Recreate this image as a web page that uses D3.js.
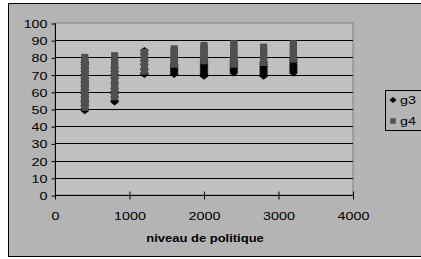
<!DOCTYPE html>
<meta charset="utf-8">
<style>
    body { margin: 0; background: #ffffff; }
    text { font-family: "Liberation Sans", Arial, sans-serif; fill: #000; }
    .grid line { stroke: #000; stroke-width: 1; }
</style>
<body>
<script src="https://cdn.jsdelivr.net/npm/d3@7"></script>
<script>

    var levels = [400, 800, 1200, 1600, 2000, 2400, 2800, 3200];

    // g3 values, one list per policy level
    var g3 = [
        [49, 50, 52, 54, 55, 57, 59, 61, 63, 64, 66, 68, 70, 72, 74, 76, 77],
        [54, 55, 57, 59, 60, 62, 65, 68, 70, 72, 74],
        [70, 71, 73, 76, 78, 80, 82, 84],
        [70, 71, 72, 73, 74, 75, 76],
        [69, 70, 71, 72, 73, 74, 75, 76, 77, 78],
        [71, 72, 73, 74, 75, 76, 77, 78],
        [69, 70, 71, 72, 73, 74, 75, 76, 77],
        [71, 72, 73, 74, 75, 76, 77, 78, 79]
    ];

    // g4 values, one list per policy level
    var g4 = [
        [51, 52, 53, 54, 55, 56, 57, 58, 59, 60, 61, 62, 63, 64, 65, 66, 67, 68, 69, 70, 71, 72, 73, 74, 75, 76, 77, 78, 79, 80],
        [57, 59, 61, 62, 63, 64, 65, 66, 67, 68, 69, 70, 71, 72, 73, 74, 75, 76, 77, 78, 79, 80, 81],
        [72, 74, 75, 77, 78, 79, 80, 81, 82, 83],
        [76, 77, 78, 79, 80, 81, 82, 83, 84, 85],
        [78, 79, 80, 81, 82, 83, 84, 85, 86, 87],
        [76, 77, 78, 79, 80, 81, 82, 83, 84, 85, 86, 87, 88],
        [77, 78, 79, 80, 81, 82, 83, 84, 85, 86],
        [79, 80, 81, 82, 83, 84, 85, 86, 87, 88]
    ];

    var xTicks = [0, 1000, 2000, 3000, 4000];
    var yTicks = [0, 10, 20, 30, 40, 50, 60, 70, 80, 90, 100];
    var seriesNames = ["g3", "g4"];

    var W = 421, H = 259;
    var plot = {left: 55, right: 353, top: 23, bottom: 195};
    var stretch = "scale(1.3,1)";

    var svg = d3.select("body").append("svg")
            .attr("width", W)
            .attr("height", H);

    // outer chart area
    svg.append("rect")
            .attr("x", 8.5).attr("y", 3.5)
            .attr("width", 420).attr("height", 253)
            .attr("fill", "#b4b4b4")
            .attr("stroke", "#000").attr("stroke-width", 1);

    var x = d3.scaleLinear().domain([0, 4000]).range([plot.left, plot.right]);
    var y = d3.scaleLinear().domain([0, 100]).range([plot.bottom, plot.top]);

    // plot area
    svg.append("rect")
            .attr("x", plot.left).attr("y", plot.top)
            .attr("width", plot.right - plot.left).attr("height", plot.bottom - plot.top)
            .attr("fill", "#c0c0c0")
            .attr("stroke", "#808080").attr("stroke-width", 1);

    svg.append("g").attr("class", "grid")
            .selectAll("line").data(yTicks.filter(function(d) { return d > 0 && d < 100; })).enter()
            .append("line")
            .attr("x1", plot.left).attr("x2", plot.right)
            .attr("y1", function(d) { return Math.round(y(d)) + 0.5; })
            .attr("y2", function(d) { return Math.round(y(d)) + 0.5; });

    // axes
    var yAxis = svg.append("g")
            .attr("transform", "translate(" + (plot.left + 0.5) + ",0.5)")
            .call(d3.axisLeft(y).tickValues(yTicks).tickSize(4).tickFormat(d3.format("d")));
    yAxis.select(".domain").attr("stroke", "#000").attr("d", "M0," + plot.top + "V" + plot.bottom);
    yAxis.selectAll(".tick text")
            .attr("x", null).attr("dy", null)
            .attr("transform", "translate(-8,4) " + stretch)
            .style("font-size", "11px").style("font-family", "Liberation Sans, Arial, sans-serif");

    var xAxis = svg.append("g")
            .attr("transform", "translate(0," + (plot.bottom + 0.5) + ")")
            .call(d3.axisBottom(x).tickValues(xTicks).tickSize(4).tickFormat(d3.format("d")));
    xAxis.select(".domain").attr("stroke", "#000").attr("d", "M" + plot.left + ",0H" + plot.right);
    xAxis.selectAll(".tick line").attr("y1", -4).attr("y2", 4);
    xAxis.selectAll(".tick text")
            .attr("y", null).attr("dy", null)
            .attr("transform", "translate(0,24) " + stretch)
            .style("font-size", "11px").style("font-family", "Liberation Sans, Arial, sans-serif");

    svg.append("text")
            .attr("transform", "translate(205,242) " + stretch)
            .attr("text-anchor", "middle")
            .style("font-size", "10px").style("font-weight", "bold")
            .text("niveau de politique");

    // points
    function flatten(series) {
        var out = [];
        series.forEach(function(vals, i) {
            vals.forEach(function(v) { out.push({x: levels[i], y: v}); });
        });
        return out;
    }

    var diamond = "M0,-3.5L4.5,0L0,3.5L-4.5,0Z";
    var square = d3.symbol().type(d3.symbolSquare).size(49);

    svg.append("g").selectAll("path").data(flatten(g3)).enter()
            .append("path")
            .attr("d", diamond)
            .attr("transform", function(d) { return "translate(" + x(d.x) + "," + y(d.y) + ")"; })
            .attr("fill", "#000");

    svg.append("g").selectAll("path").data(flatten(g4)).enter()
            .append("path")
            .attr("d", square)
            .attr("transform", function(d) { return "translate(" + x(d.x) + "," + y(d.y) + ")"; })
            .attr("fill", "#505050");

    // legend
    var legend = svg.append("g");
    legend.append("rect")
            .attr("x", 385.5).attr("y", 90.5)
            .attr("width", 40).attr("height", 40)
            .attr("fill", "#b4b4b4")
            .attr("stroke", "#000").attr("stroke-width", 1);

    var entry = legend.selectAll("g.entry").data(seriesNames).enter()
            .append("g").attr("class", "entry")
            .attr("transform", function(d, i) { return "translate(393," + (100 + i * 21) + ")"; });
    entry.append("path")
            .attr("d", function(d, i) { return i === 0 ? "M0,-3L3.5,0L0,3L-3.5,0Z" : d3.symbol().type(d3.symbolSquare).size(30)(); })
            .attr("fill", function(d, i) { return i === 0 ? "#000" : "#505050"; });
    entry.append("text")
            .attr("transform", "translate(7,4) " + stretch)
            .style("font-size", "11px")
            .text(function(d) { return d; });

</script>
